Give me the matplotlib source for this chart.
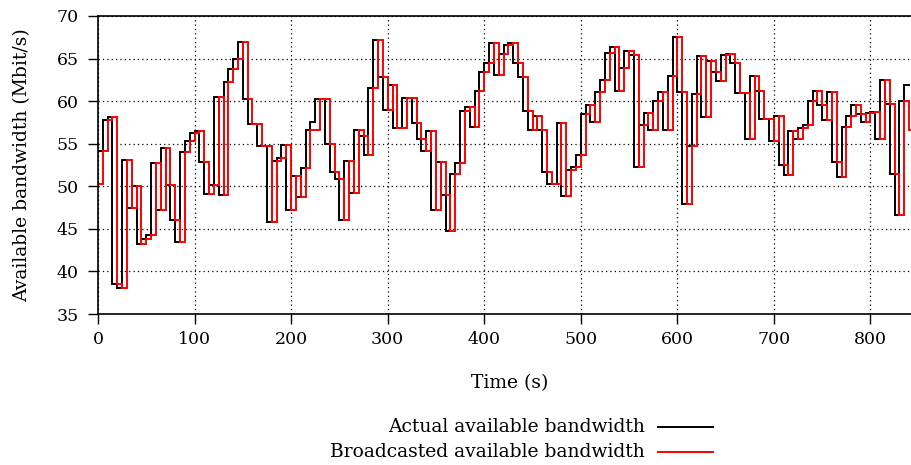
import numpy as np
import matplotlib
matplotlib.use("Agg")
import matplotlib.pyplot as plt
from matplotlib.lines import Line2D

# Sampling period of both series (s)
step = 5

# Actual available bandwidth (Mbit/s), one value per 5 s starting at t = 0
actual = [
    54.2, 57.8, 58.1, 38.5, 38.1, 53.1, 47.5, 50.0, 43.2, 43.8,
    44.3, 52.7, 47.2, 54.5, 50.1, 46.0, 43.4, 54.0, 55.3, 56.2,
    56.5, 52.8, 49.1, 50.1, 60.5, 49.0, 62.2, 63.8, 64.9, 67.0,
    60.3, 57.3, 57.3, 54.7, 54.7, 45.8, 53.0, 53.3, 54.8, 47.2,
    51.2, 48.8, 52.2, 56.6, 57.6, 60.2, 60.2, 55.0, 51.7, 50.8,
    46.0, 53.0, 49.2, 56.6, 55.9, 53.7, 61.5, 67.2, 62.8, 59.0,
    61.9, 56.9, 56.9, 60.4, 60.4, 57.4, 55.5, 54.1, 56.5, 47.2,
    52.8, 49.0, 44.8, 51.5, 52.7, 58.9, 59.3, 57.0, 61.2, 63.4,
    64.5, 66.8, 63.1, 65.5, 66.6, 66.8, 64.5, 62.8, 58.9, 56.6,
    58.2, 56.6, 51.7, 50.3, 50.3, 57.4, 48.9, 51.9, 52.3, 53.7,
    58.5, 59.6, 57.5, 61.1, 62.5, 65.7, 66.4, 61.2, 63.9, 65.9,
    65.4, 52.3, 57.2, 58.6, 56.6, 60.0, 61.1, 56.6, 62.9, 67.5,
    61.1, 47.9, 54.7, 60.8, 65.3, 58.1, 64.7, 63.4, 62.4, 65.4,
    65.5, 64.5, 60.9, 60.9, 55.5, 63.0, 61.2, 57.9, 57.9, 55.3,
    58.3, 52.5, 51.3, 56.5, 55.5, 56.9, 57.2, 60.0, 61.2, 59.5,
    57.8, 61.1, 52.8, 51.1, 57.0, 58.2, 59.5, 58.5, 57.5, 58.6,
    58.7, 55.6, 62.5, 59.7, 51.5, 46.6, 60.0, 61.9,
]

# Broadcasted available bandwidth (Mbit/s), one value per 5 s starting at t = 0
broadcasted = [
    50.3,
    54.2, 57.8, 58.1, 38.5, 38.1, 53.1, 47.5, 50.0, 43.2, 43.8,
    44.3, 52.7, 47.2, 54.5, 50.1, 46.0, 43.4, 54.0, 55.3, 56.2,
    56.5, 52.8, 49.1, 50.1, 60.5, 49.0, 62.2, 63.8, 64.9, 67.0,
    60.3, 57.3, 57.3, 54.7, 54.7, 45.8, 53.0, 53.3, 54.8, 47.2,
    51.2, 48.8, 52.2, 56.6, 56.6, 60.2, 60.2, 55.0, 51.7, 50.8,
    46.0, 53.0, 49.2, 56.6, 55.9, 53.7, 61.5, 67.2, 62.8, 59.0,
    61.9, 56.9, 56.9, 60.4, 60.4, 57.4, 55.5, 54.1, 56.5, 47.2,
    52.8, 49.0, 44.8, 51.5, 52.7, 58.9, 59.3, 57.0, 61.2, 63.4,
    64.5, 66.8, 63.1, 65.5, 66.6, 66.8, 64.5, 62.8, 58.9, 56.6,
    58.2, 56.6, 51.7, 50.3, 50.3, 57.4, 48.9, 51.9, 52.3, 53.7,
    58.5, 59.6, 57.5, 61.1, 62.5, 65.7, 66.4, 61.2, 63.9, 65.9,
    65.4, 52.3, 57.2, 58.6, 56.6, 60.0, 61.1, 56.6, 62.9, 67.5,
    61.1, 47.9, 54.7, 60.8, 65.3, 58.1, 64.7, 63.4, 62.4, 65.4,
    65.5, 64.5, 60.9, 60.9, 55.5, 63.0, 61.2, 57.9, 57.9, 55.3,
    58.3, 52.5, 51.3, 56.5, 55.5, 56.9, 57.2, 60.0, 61.2, 59.5,
    57.8, 61.1, 52.8, 51.1, 57.0, 58.2, 59.5, 58.5, 57.5, 58.6,
    58.7, 55.6, 62.5, 59.7, 51.5, 46.6, 60.0, 56.6,
]

x_ticks = [0, 100, 200, 300, 400, 500, 600, 700, 800]
y_ticks = [35, 40, 45, 50, 55, 60, 65, 70]
labels = ["Actual available bandwidth", "Broadcasted available bandwidth"]
colors = ["black", "#ff0000"]

plt.rcParams["font.family"] = ["DejaVu Serif"]

W, H = 912, 465
fig = plt.figure(figsize=(W / 100, H / 100), dpi=100)
ax = fig.add_axes([98 / W, 1 - 314 / H, 1 - 98 / W, (314 - 16) / H])


def stairs(values):
    t = np.arange(len(values) + 1) * step
    v = list(values) + [values[-1]]
    return t, v


for series, c in zip([actual, broadcasted], colors):
    t, v = stairs(series)
    ax.plot(t, v, drawstyle="steps-post", color=c, lw=1.4, solid_joinstyle="miter")

ax.set_xlim(0, 843)
ax.set_ylim(35, 70)
ax.set_xticks(x_ticks)
ax.set_yticks(y_ticks)
ax.grid(True, color="black", linestyle=(0, (1, 2.5)), linewidth=0.9)
ax.set_axisbelow(True)
ax.tick_params(direction="out", length=7, width=1.0, labelsize=12.5)
ax.tick_params(axis="y", pad=7)
ax.tick_params(axis="x", pad=5)
for s in ["left", "bottom", "top"]:
    ax.spines[s].set_linewidth(1.2)
ax.spines["right"].set_visible(False)

ax.set_xlabel("Time (s)", fontsize=13.5)
ax.set_ylabel("Available bandwidth (Mbit/s)", fontsize=13.5)
ax.xaxis.set_label_coords((510 - 98) / 814, (314 - 383) / 298)
ax.yaxis.set_label_coords((22 - 98) / 814, (314 - 165) / 298)
ax.xaxis.label.set_va("center")
ax.yaxis.label.set_va("center")

# Key below the plot: label on the left, line sample on the right
rows_y = [427, 452]
for lab, c, yp in zip(labels, colors, rows_y):
    yf = 1 - yp / H
    fig.text(645 / W, yf, lab, ha="right", va="center", fontsize=13.5)
    fig.add_artist(Line2D([658 / W, 713 / W], [yf, yf], color=c, lw=1.4,
                          transform=fig.transFigure))

fig.savefig("out.png", dpi=100)
